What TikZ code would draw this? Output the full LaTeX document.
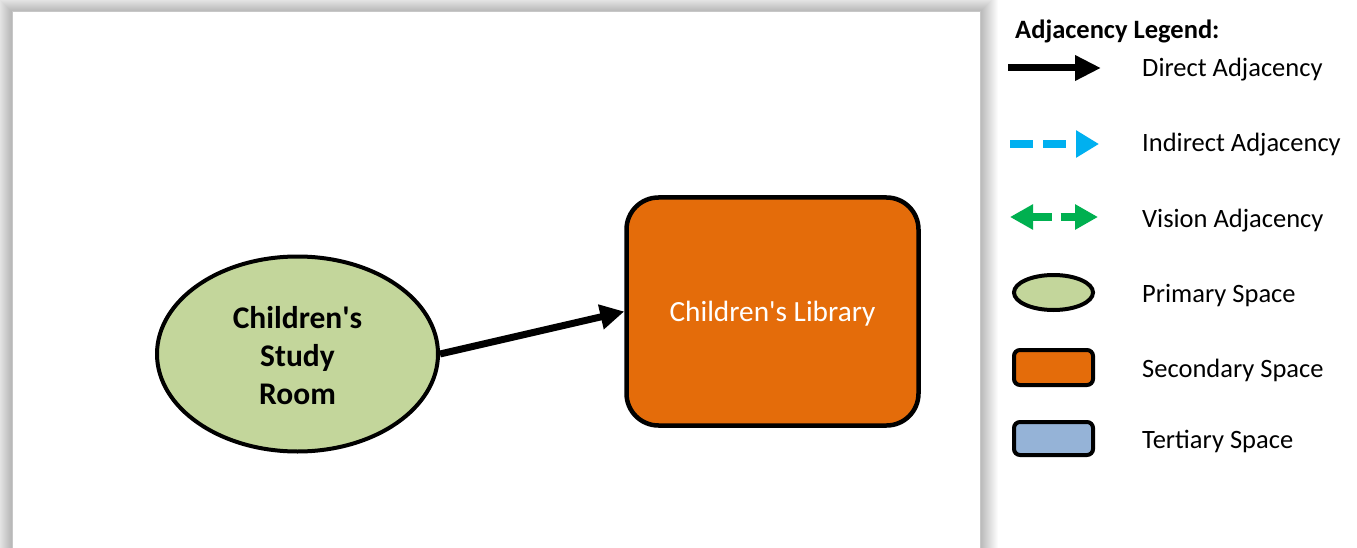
\documentclass[tikz,border=0pt]{standalone}
\usepackage{fontspec}
\setmainfont{Carlito}
\usetikzlibrary{shapes.geometric,arrows.meta}
\definecolor{primaryfill}{HTML}{C3D69B}
\definecolor{secondaryfill}{HTML}{E46C0A}
\definecolor{tertiaryfill}{HTML}{95B3D7}
\definecolor{indirectcol}{HTML}{00B0F0}
\definecolor{visioncol}{HTML}{00B050}
\newcommand{\apos}{\textquotesingle}
% lower a label slightly without changing the size its node sees
\newcommand{\lowered}[2][2pt]{\raisebox{-#1}[\height][\depth]{#2}}
\tikzset{
  primary/.style={ellipse, draw=black, fill=primaryfill, inner sep=0pt},
  secondary/.style={rectangle, draw=black, fill=secondaryfill, inner sep=0pt},
  tertiary/.style={rectangle, draw=black, fill=tertiaryfill, inner sep=0pt},
  legendtext/.style={anchor=base west, inner sep=0pt, font=\fontsize{26.5}{30}\selectfont},
  direct/.style={line width=7pt, draw=black, -{Triangle[length=24pt,width=24pt]}},
  indirect/.style={line width=8pt, draw=indirectcol, dash pattern=on 23pt off 10pt,
    -{Triangle[length=23pt,width=26pt]}},
  vision/.style={line width=8pt, draw=visioncol, dash pattern=on 20pt off 9pt,
    {Triangle[length=23pt,width=24pt]}-{Triangle[length=23pt,width=24pt]}},
}
\begin{document}
\begin{tikzpicture}[x=1pt,y=-1pt]
  \clip (0,0) rectangle (1357,548);
  \fill[white] (0,0) rectangle (1357,548);

  % drawing sheet with a soft drop shadow
  \foreach \i in {1,...,18}
    \fill[black,opacity=0.017] (12-\i,12-\i) rectangle (980+\i,600);
  \fill[white] (12,12) rectangle (980,600);
  \draw[black!22,line width=1pt] (12,600) -- (12,12) -- (980,12) -- (980,600);

  % spaces
  \node[primary, line width=4pt, minimum width=281pt, minimum height=195pt,
        font=\bfseries\fontsize{31.5}{38}\selectfont]
        (study) at (297.5,354)
        {\lowered[5pt]{\begin{tabular}{@{}c@{}}Children\apos s\\Study\\Room\end{tabular}}};
  \node[secondary, line width=4.5pt, rounded corners=32pt,
        minimum width=292pt, minimum height=228pt,
        text=white, font=\fontsize{29.3}{34}\selectfont]
        (library) at (772.5,311.5) {\lowered{Children\apos s Library}};

  \draw[direct] (study.east) -- (library.west);

  % legend
  \node[anchor=base west, inner sep=0pt, font=\bfseries\fontsize{26.5}{30}\selectfont]
        (title) at (1015,39) {Adjacency Legend:};

  \coordinate (d1) at (1008,68);  \coordinate (d2) at (1101,68);
  \draw[direct, -{Triangle[length=26pt,width=24pt]}] (d1) -- (d2);
  \node[legendtext] (tdirect) at (1142,77) {Direct Adjacency};

  \coordinate (i1) at (1010,144); \coordinate (i2) at (1099,144);
  \draw[indirect] (i1) -- (i2);
  \node[legendtext] (tindirect) at (1142,152) {Indirect Adjacency};

  \coordinate (v1) at (1010,217); \coordinate (v2) at (1098,217);
  \draw[vision] (v1) -- (v2);
  \node[legendtext] (tvision) at (1142,227) {Vision Adjacency};

  \node[primary, line width=4pt, minimum width=79pt, minimum height=35pt]
        (kprimary) at (1053.5,292.5) {};
  \node[legendtext] (tprimary) at (1142,302) {Primary Space};

  \node[secondary, line width=4pt, rounded corners=6pt,
        minimum width=79pt, minimum height=35pt] (ksecondary) at (1053.5,367.5) {};
  \node[legendtext] (tsecondary) at (1142,377) {Secondary Space};

  \node[tertiary, line width=4pt, rounded corners=6pt,
        minimum width=79pt, minimum height=33pt] (ktertiary) at (1053.5,438.5) {};
  \node[legendtext] (ttertiary) at (1142,448) {Tertiary Space};
\end{tikzpicture}
\end{document}
